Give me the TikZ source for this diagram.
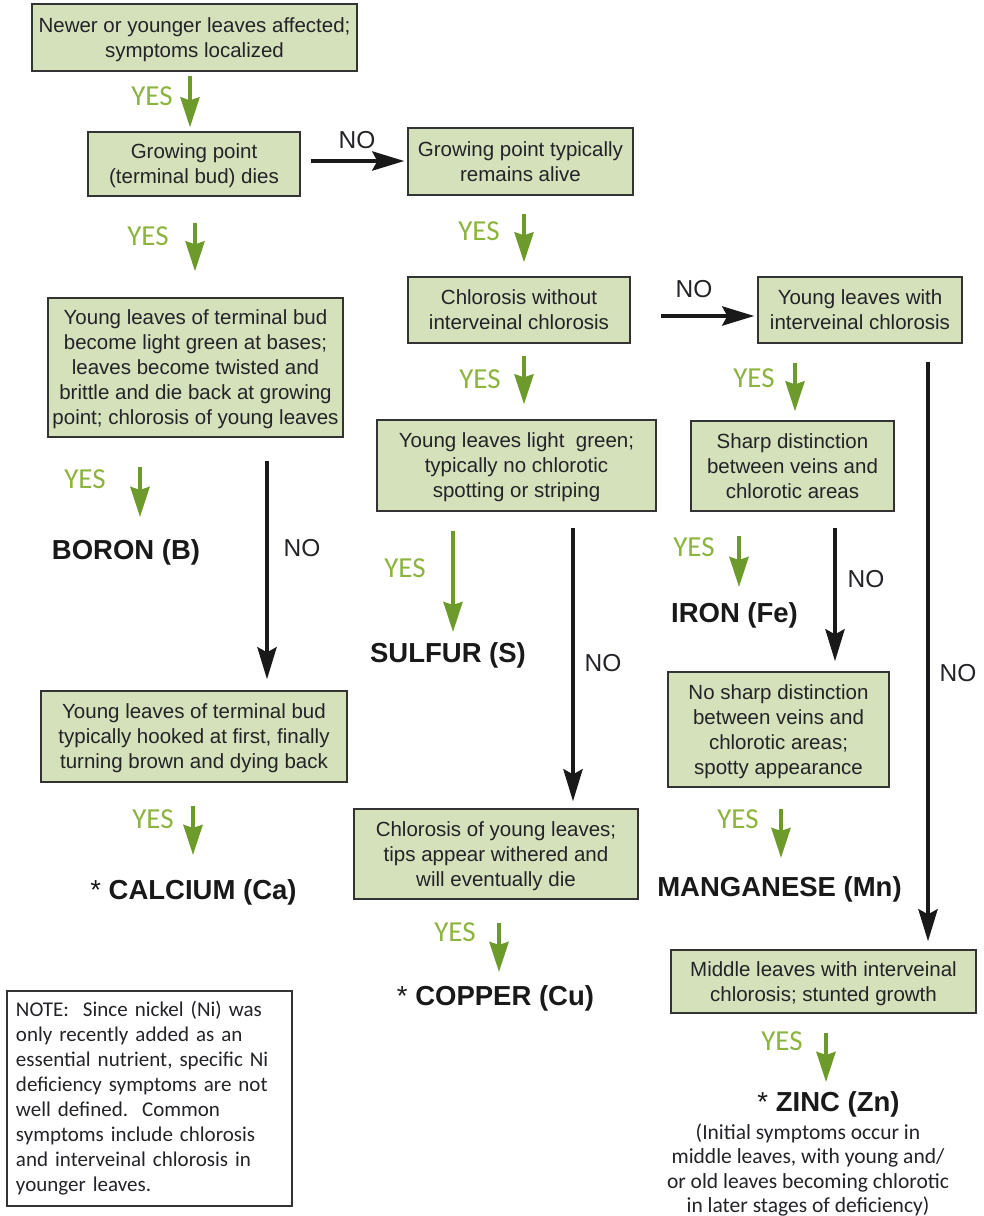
\documentclass[tikz,border=0pt]{standalone}
\usepackage{fontspec}
\setmainfont{Liberation Sans}
\newfontfamily\myriad{Carlito}
\usetikzlibrary{arrows.meta}
\definecolor{boxfill}{RGB}{213,225,187}
\definecolor{arrgreen}{RGB}{108,155,44}
\definecolor{yesgreen}{RGB}{140,180,62}
\definecolor{txt}{RGB}{35,35,40}
\begin{document}
\begin{tikzpicture}[x=1pt,y=-1pt,
  box/.style={draw=black!80,line width=1.3pt,fill=boxfill,align=center,inner sep=0pt,text=txt,font=\fontsize{20.5}{25}\selectfont,text depth=0pt},
  yesarr/.style={draw=arrgreen,line width=4pt,-{Stealth[length=30pt,width=19pt,inset=3pt]}},
  noarr/.style={draw=black!90,line width=4.5pt,-{Stealth[length=32pt,width=19pt,inset=5pt]}},
  yeslbl/.style={text=yesgreen,font=\myriad\fontsize{29}{30}\selectfont,inner sep=0pt},
  nolbl/.style={text=txt,font=\fontsize{24.5}{26}\selectfont,inner sep=0pt},
  elem/.style={text=black!90,font=\bfseries\fontsize{27.5}{30}\selectfont,inner sep=0pt},
  notebox/.style={draw=black!80,line width=1.3pt,fill=white,align=left,text width=267pt,inner xsep=9pt,inner ysep=0pt,minimum height=215pt,text=txt,font=\myriad\fontsize{21}{25}\selectfont}
]
\useasboundingbox (0,0) rectangle (983,1216);
\fill[white] (0,0) rectangle (983,1216);

% boxes
\node[box,minimum width=325pt,minimum height=67pt] (b1) at (194.5,37.5) {Newer or younger leaves affected;\\symptoms localized};
\node[box,minimum width=212pt,minimum height=64pt] (b2) at (194,164) {Growing point\\(terminal bud) dies};
\node[box,minimum width=225pt,minimum height=67pt] (b3) at (520.5,161.5) {Growing point typically\\remains alive};
\node[box,minimum width=222pt,minimum height=66pt] (b4) at (519,310) {Chlorosis without\\interveinal chlorosis};
\node[box,minimum width=204pt,minimum height=66pt] (b5) at (860,310) {Young leaves with\\interveinal chlorosis};
\node[box,minimum width=295pt,minimum height=139pt] (b6) at (195.5,367.5) {Young leaves of terminal bud\\become light green at bases;\\leaves become twisted and\\brittle and die back at growing\\point; chlorosis of young leaves};
\node[box,minimum width=279pt,minimum height=91pt] (b7) at (516.5,465.5) {Young leaves light\ \ green;\\typically no chlorotic\\spotting or striping};
\node[box,minimum width=203pt,minimum height=90pt] (b8) at (792.5,466) {Sharp distinction\\between veins and\\chlorotic areas};
\node[box,minimum width=221pt,minimum height=115pt] (b9) at (778.5,729.5) {No sharp distinction\\between veins and\\chlorotic areas;\\spotty appearance};
\node[box,minimum width=306pt,minimum height=91pt] (b10) at (194,736.5) {Young leaves of terminal bud\\typically hooked at first, finally\\turning brown and dying back};
\node[box,minimum width=284pt,minimum height=90pt] (b11) at (496,854) {Chlorosis of young leaves;\\tips appear withered and\\will eventually die};
\node[box,minimum width=305pt,minimum height=63pt] (b12) at (823.5,981.5) {Middle leaves with interveinal\\chlorosis; stunted growth};

% element labels
\node[elem] (boron) at (126,552) {BORON (B)};
\node[elem] (sulfur) at (448,655) {SULFUR (S)};
\node[elem] (iron) at (734.5,615) {IRON (Fe)};
\node[elem] (calcium) at (193.5,892) {{\mdseries *} CALCIUM (Ca)};
\node[elem] (mn) at (779.5,889) {MANGANESE (Mn)};
\node[elem] (cu) at (495.5,998) {{\mdseries *} COPPER (Cu)};
\node[elem] (zn) at (828.5,1104) {{\mdseries *} ZINC (Zn)};
\node[align=center,inner sep=0pt,text=txt,font=\myriad\fontsize{21.5}{24.5}\selectfont] (zsub) at (808,1170) {(Initial symptoms occur in\\middle leaves, with young and/\\or old leaves becoming chlorotic\\in later stages of deficiency)};

% note
\node[notebox] (note) at (149.5,1098.5) {NOTE:\ \ Since nickel (Ni) was\\only recently added as an\\essential nutrient, specific Ni\\deficiency symptoms are not\\well defined.\ \ Common\\symptoms include chlorosis\\and interveinal chlorosis in\\younger leaves.};

% arrow start coordinates
\coordinate (s1) at ([xshift=-4.5pt,yshift=-4pt]b1.south);
\coordinate (s2) at ([xshift=10pt,yshift=3pt]b2.east);
\coordinate (s3) at ([xshift=1pt,yshift=-26pt]b2.south);
\coordinate (s4) at ([xshift=3.5pt,yshift=-18pt]b3.south);
\coordinate (s5) at ([xshift=30pt,yshift=-6pt]b4.east);
\coordinate (s6) at ([xshift=5pt,yshift=-12pt]b4.south);
\coordinate (s7) at ([xshift=-65pt,yshift=-19pt]b5.south);
\coordinate (s8) at ([xshift=-55.5pt,yshift=-29pt]b6.south);
\coordinate (s9) at ([xshift=71.5pt,yshift=-23pt]b6.south);
\coordinate (s10) at ([xshift=-63.5pt,yshift=-19pt]b7.south);
\coordinate (s11) at ([xshift=56.5pt,yshift=-16pt]b7.south);
\coordinate (s12) at ([xshift=-53.5pt,yshift=-24pt]b8.south);
\coordinate (s13) at ([xshift=42.5pt,yshift=-16pt]b8.south);
\coordinate (s14) at ([xshift=68pt,yshift=-18pt]b5.south);
\coordinate (s15) at ([xshift=-1pt,yshift=-23pt]b10.south);
\coordinate (s16) at ([xshift=2.5pt,yshift=-21pt]b9.south);
\coordinate (s17) at ([xshift=3pt,yshift=-23pt]b11.south);
\coordinate (s18) at ([xshift=2.5pt,yshift=-19pt]b12.south);

% yes arrows
\draw[yesarr,shorten >=4pt] (s1) -- (s1 |- b2.north);
\draw[yesarr,shorten >=26pt] (s3) -- (s3 |- b6.north);
\draw[yesarr,shorten >=14pt] (s4) -- (s4 |- b4.north);
\draw[yesarr,shorten >=15pt] (s6) -- (s6 |- b7.north);
\draw[yesarr,shorten >=9pt] (s7) -- (s7 |- b8.north);
\draw[yesarr,shorten >=22pt] (s8) -- (s8 |- boron.north);
\draw[yesarr,shorten >=10pt] (s10) -- (s10 |- sulfur.north);
\draw[yesarr,shorten >=15pt] (s12) -- (s12 |- iron.north);
\draw[yesarr,shorten >=24pt] (s15) -- (s15 |- calcium.north);
\draw[yesarr,shorten >=18pt] (s16) -- (s16 |- mn.north);
\draw[yesarr,shorten >=13pt] (s17) -- (s17 |- cu.north);
\draw[yesarr,shorten >=9pt] (s18) -- (s18 |- zn.north);

% no arrows
\draw[noarr,shorten >=3pt] (s2) -- (s2 -| b3.west);
\draw[noarr,shorten >=3pt] (s5) -- (s5 -| b5.west);
\draw[noarr,shorten >=11pt] (s9) -- (s9 |- b10.north);
\draw[noarr,shorten >=7pt] (s11) -- (s11 |- b11.north);
\draw[noarr,shorten >=10pt] (s13) -- (s13 |- b9.north);
\draw[noarr,shorten >=8pt] (s14) -- (s14 |- b12.north);

% yes labels
\node[yeslbl] (y1) at (152,96) {YES};
\node[yeslbl] (y3) at (148,236) {YES};
\node[yeslbl] (y4) at (479,231) {YES};
\node[yeslbl] (y6) at (480,379) {YES};
\node[yeslbl] (y7) at (754,378) {YES};
\node[yeslbl] (y8) at (85,479) {YES};
\node[yeslbl] (y10) at (405,568) {YES};
\node[yeslbl] (y12) at (694,547) {YES};
\node[yeslbl] (y15) at (153,819) {YES};
\node[yeslbl] (y16) at (738,819) {YES};
\node[yeslbl] (y17) at (455,932) {YES};
\node[yeslbl] (y18) at (782,1041) {YES};

% no labels
\node[nolbl] (n2) at (357,140) {NO};
\node[nolbl] (n5) at (694,289) {NO};
\node[nolbl] (n9) at (302,548) {NO};
\node[nolbl] (n11) at (603,663) {NO};
\node[nolbl] (n13) at (866,579) {NO};
\node[nolbl] (n14) at (958,673) {NO};
\end{tikzpicture}
\end{document}
